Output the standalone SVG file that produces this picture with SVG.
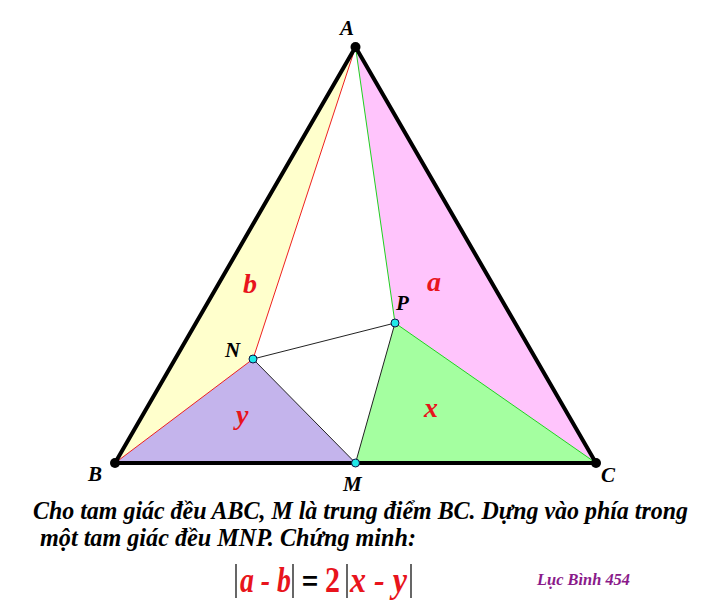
<svg xmlns="http://www.w3.org/2000/svg" width="725" height="601" viewBox="0 0 725 601">
<style>
.lbl{font-family:"Liberation Serif",serif;font-weight:bold;font-style:italic;font-size:21px;fill:#000}
.var{font-family:"Liberation Serif",serif;font-weight:bold;font-style:italic;font-size:28px;fill:#e8141c}
.txt{font-family:"Liberation Serif",serif;font-weight:bold;font-style:italic;font-size:25px;fill:#000}
.thin{stroke-width:1;fill:none}
.dot{fill:#000}
.cdot{fill:#20e8e8;stroke:#114;stroke-width:1}
.bar{stroke:#000;stroke-width:1.2}
</style>
<rect width="725" height="601" fill="#fff"/>
<g id="fills">
<polygon points="355.5,47 115,463 253,359" fill="#ffffcc"/>
<polygon points="355.5,47 395,323 596,463" fill="#ffc4fc"/>
<polygon points="395,323 355.5,463 596,463" fill="#a4ffa0"/>
<polygon points="115,463 253,359 355.5,463" fill="#c4b4ec"/>
</g>
<g id="connectors">
<line x1="355.5" y1="47" x2="253" y2="359" stroke="#ee2020" class="thin"/>
<line x1="115" y1="463" x2="253" y2="359" stroke="#ee2020" class="thin"/>
<line x1="355.5" y1="47" x2="395" y2="323" stroke="#20d020" class="thin"/>
<line x1="395" y1="323" x2="596" y2="463" stroke="#20d020" class="thin"/>
<line x1="253" y1="359" x2="355.5" y2="463" stroke="#222" class="thin"/>
<line x1="355.5" y1="463" x2="395" y2="323" stroke="#222" class="thin"/>
<line x1="253" y1="359" x2="395" y2="323" stroke="#222" class="thin"/>
<polygon points="355.5,47 115,463 596,463" fill="none" stroke="#000" stroke-width="4" stroke-linejoin="round"/>
</g>
<g id="A"><circle cx="355.5" cy="47" r="5" class="dot"/><text class="lbl" x="340" y="35">A</text></g>
<g id="B"><circle cx="115" cy="463" r="5" class="dot"/><text class="lbl" x="88" y="481">B</text></g>
<g id="C"><circle cx="596" cy="463" r="5" class="dot"/><text class="lbl" x="601" y="482">C</text></g>
<g id="M"><circle cx="355.5" cy="463" r="4" class="cdot"/><text class="lbl" x="343" y="491">M</text></g>
<g id="N"><circle cx="253" cy="359" r="4" class="cdot"/><text class="lbl" x="225" y="357">N</text></g>
<g id="P"><circle cx="395" cy="323" r="4" class="cdot"/><text class="lbl" x="396" y="310">P</text></g>
<g id="labels">
<text class="var" x="427" y="291">a</text>
<text class="var" x="243" y="293">b</text>
<text class="var" x="424" y="417">x</text>
<text class="var" x="236" y="424">y</text>
</g>
<g id="statement">
<text class="txt" x="33" y="519" textLength="655" lengthAdjust="spacingAndGlyphs">Cho tam giác đều ABC, M là trung điểm BC. Dựng vào phía trong</text>
<text class="txt" x="40" y="546" textLength="376" lengthAdjust="spacingAndGlyphs">một tam giác đều MNP.  Chứng minh:</text>
</g>
<g id="formula">
<line class="bar" x1="236" y1="564" x2="236" y2="598"/>
<line class="bar" x1="293" y1="564" x2="293" y2="598"/>
<line class="bar" x1="347" y1="564" x2="347" y2="598"/>
<line class="bar" x1="411" y1="564" x2="411" y2="598"/>
<text x="240" y="592" textLength="51" lengthAdjust="spacingAndGlyphs" style="font-family:'Liberation Serif',serif;font-weight:bold;font-style:italic;font-size:36px;fill:#e8141c">a - b</text>
<text x="302" y="590" textLength="16" lengthAdjust="spacingAndGlyphs" style="font-family:'Liberation Sans',sans-serif;font-weight:bold;font-size:26px;fill:#000">=</text>
<text x="325" y="592" textLength="15" lengthAdjust="spacingAndGlyphs" style="font-family:'Liberation Serif',serif;font-weight:bold;font-size:36px;fill:#e8141c">2</text>
<text x="350" y="592" textLength="57" lengthAdjust="spacingAndGlyphs" style="font-family:'Liberation Serif',serif;font-weight:bold;font-style:italic;font-size:36px;fill:#e8141c">x - y</text>
<text x="537" y="585" textLength="93" lengthAdjust="spacingAndGlyphs" style="font-family:'Liberation Serif',serif;font-weight:bold;font-style:italic;font-size:16px;fill:#8a1a8a">Lục Bình 454</text>
</g>
</svg>
